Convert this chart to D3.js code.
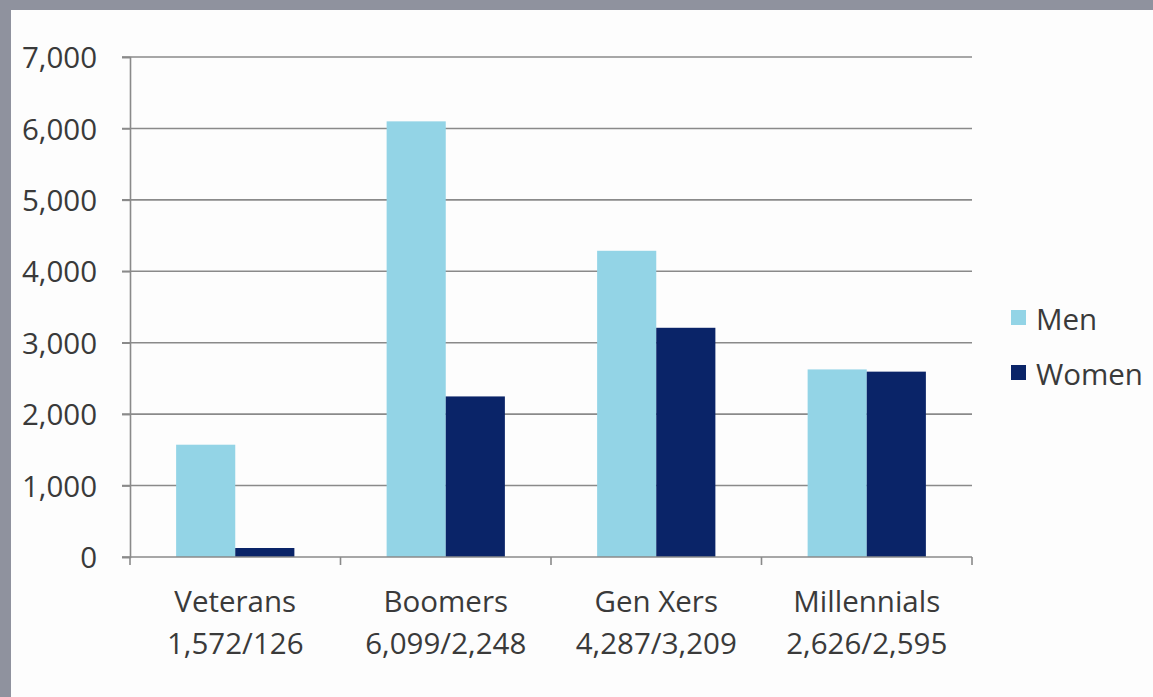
<!DOCTYPE html>
<html><head><meta charset="utf-8">
<script src="https://cdn.jsdelivr.net/npm/d3@7"></script>
<style>
html,body{margin:0;padding:0;background:#fff;overflow:hidden}
svg{display:block}
</style></head>
<body>
<svg id="chart" width="1153" height="697"></svg>
<script>
const categories = ["Veterans", "Boomers", "Gen Xers", "Millennials"];
const subLabels = ["1,572/126", "6,099/2,248", "4,287/3,209", "2,626/2,595"];
const series = ["Men", "Women"];
const menValues = [1572, 6099, 4287, 2626];
const womenValues = [126, 2248, 3209, 2595];
const yTicks = [0, 1000, 2000, 3000, 4000, 5000, 6000, 7000];
const colors = {Men: "#93D4E6", Women: "#0A2468"};

(function(){
const svg = d3.select("#chart");
const W = 1153, H = 697;
const font = "'Open Sans', Lato, sans-serif";
const textColor = "#3a3a3a";
const fs = 29.5;

// frame
svg.append("rect").attr("x",0).attr("y",0).attr("width",W).attr("height",H).attr("fill","#8f929e");
svg.append("rect").attr("x",11).attr("y",10).attr("width",W-11).attr("height",H-10).attr("fill","#fdfdfd");

const pL = 130, pR = 972, pT = 57, pB = 557;
const x = d3.scaleBand().domain(categories).range([pL, pR]).paddingInner(0).paddingOuter(0);
const xs = d3.scaleBand().domain(series).range([0, x.bandwidth()]).paddingInner(0).paddingOuter(0.78);
const y = d3.scaleLinear().domain([0, 7000]).range([pB, pT]);

// gridlines
svg.append("g").selectAll("line").data(yTicks.filter(d=>d>0)).join("line")
  .attr("x1", pL-8).attr("x2", pR).attr("y1", d=>y(d)).attr("y2", d=>y(d))
  .attr("stroke", "#8a8a8a").attr("stroke-width", 1.6);

// bars
const data = categories.map((c,i)=>({cat:c, vals:[{s:"Men", v:menValues[i]},{s:"Women", v:womenValues[i]}]}));
const g = svg.append("g");
g.selectAll("g").data(data).join("g")
  .attr("transform", d=>`translate(${x(d.cat)},0)`)
  .selectAll("rect").data(d=>d.vals).join("rect")
  .attr("x", d=>xs(d.s)).attr("width", xs.bandwidth())
  .attr("y", d=>y(d.v)).attr("height", d=>y(0)-y(d.v))
  .attr("fill", d=>colors[d.s]);

// y axis
const yAxis = d3.axisLeft(y).tickValues(yTicks).tickSize(8).tickPadding(25)
  .tickFormat(d3.format(","));
const ya = svg.append("g").attr("transform", `translate(${pL},0)`).call(yAxis);
ya.select(".domain").attr("stroke", "#8a8a8a").attr("stroke-width", 1.6);
ya.selectAll(".tick line").attr("stroke", "#8a8a8a").attr("stroke-width", 1.6);
ya.selectAll(".tick text").attr("font-family", font).attr("font-size", fs).attr("fill", textColor).attr("dy","0.36em");

// x axis
svg.append("line").attr("x1", pL-8).attr("x2", pR).attr("y1", pB).attr("y2", pB)
  .attr("stroke", "#8a8a8a").attr("stroke-width", 1.6);
const bounds = categories.map(c=>x(c)).concat([pR]);
svg.append("g").selectAll("line").data(bounds).join("line")
  .attr("x1", d=>d).attr("x2", d=>d).attr("y1", pB).attr("y2", pB+8)
  .attr("stroke", "#8a8a8a").attr("stroke-width", 1.6);

const xl = svg.append("g");
categories.forEach((c,i)=>{
  const cx = x(c) + x.bandwidth()/2;
  xl.append("text").attr("x", cx).attr("y", 612).attr("text-anchor","middle")
    .attr("font-family", font).attr("font-size", fs).attr("fill", textColor).text(c);
  xl.append("text").attr("x", cx).attr("y", 654).attr("text-anchor","middle")
    .attr("font-family", font).attr("font-size", fs).attr("fill", textColor).text(subLabels[i]);
});

// legend
const lg = svg.append("g");
series.forEach((s,i)=>{
  const yy = 310 + i*55;
  lg.append("rect").attr("x", 1011).attr("y", yy).attr("width", 15).attr("height", 15).attr("fill", colors[s]);
  lg.append("text").attr("x", 1036).attr("y", yy+20).attr("font-family", font).attr("font-size", fs)
    .attr("fill", textColor).text(s);
});
})();
</script>
</body></html>
